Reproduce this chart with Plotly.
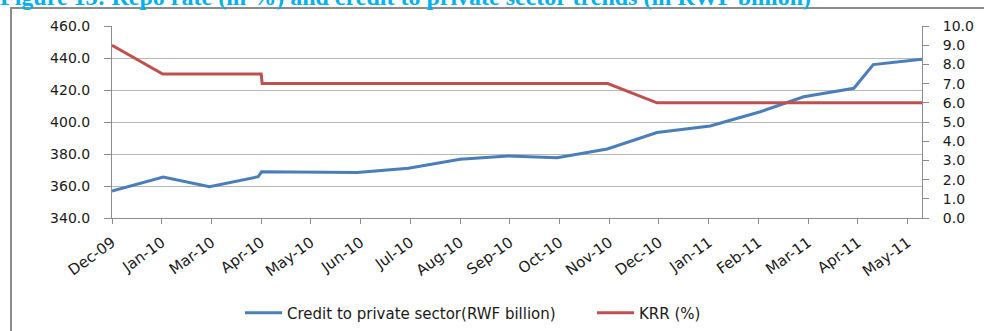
import plotly.graph_objects as go

# Period labels on the horizontal axis
period_labels = ["Dec-09", "Jan-10", "Mar-10", "Apr-10", "May-10", "Jun-10", "Jul-10",
                 "Aug-10", "Sep-10", "Oct-10", "Nov-10", "Dec-10", "Jan-11", "Feb-11",
                 "Mar-11", "Apr-11", "May-11"]

# Credit to private sector (RWF billion), position in periods
credit_pos = [0, 1.03, 1.96, 2.94, 3.01, 4.93, 5.96, 7.0, 7.97, 8.95, 9.96, 10.96,
              12.03, 13.04, 13.91, 14.92, 15.31, 16.29]
credit_val = [356.9, 365.6, 359.6, 365.8, 368.9, 368.5, 371.1, 376.7, 378.8, 377.7,
              383.1, 393.4, 397.5, 406.4, 415.8, 421.1, 435.9, 439.2]

# Key repo rate (%)
krr_pos = [0, 1.02, 3.0, 3.02, 9.97, 10.96, 16.29]
krr_val = [9.0, 7.5, 7.5, 7.0, 7.0, 6.0, 6.0]

left_ticks = [340, 360, 380, 400, 420, 440, 460]
right_ticks = [0, 1, 2, 3, 4, 5, 6, 7, 8, 9, 10]

W, H = 984, 331
L, R, T, B = 112, 62, 26, 113
PW, PH = W - L - R, H - T - B


def px_x(px):
    return (px - L) / PW


def px_y(py):
    return (H - B - py) / PH


FONT = "DejaVu Sans"
TXT = "#1a1a1a"
AXC = "#8c8c8c"

fig = go.Figure()
fig.add_trace(go.Scatter(
    x=credit_pos, y=credit_val, mode="lines",
    name="Credit to private sector(RWF billion)",
    line=dict(color="#4a7ebb", width=3),
))
fig.add_trace(go.Scatter(
    x=krr_pos, y=krr_val, mode="lines", name="KRR (%)", yaxis="y2",
    line=dict(color="#c0504d", width=3),
))

fig.update_layout(
    template="none",
    width=W, height=H,
    margin=dict(l=L, r=R, t=T, b=B, autoexpand=False),
    paper_bgcolor="white", plot_bgcolor="white",
    font=dict(family=FONT, color=TXT),
    xaxis=dict(
        range=[0, len(period_labels) - 1 + 0.29],
        tickmode="array",
        tickvals=list(range(len(period_labels))),
        ticktext=period_labels,
        tickangle=-36,
        tickfont=dict(size=15, color=TXT),
        ticks="outside", ticklen=5, tickcolor=AXC,
        ticklabelstandoff=4,
        showline=True, linecolor=AXC, linewidth=1,
        showgrid=False, zeroline=False, automargin=False,
    ),
    yaxis=dict(
        range=[340, 460],
        tickvals=left_ticks,
        tickformat=".1f",
        tickfont=dict(size=14, color=TXT),
        ticks="outside", ticklen=7, tickcolor=AXC,
        ticklabelstandoff=11,
        showline=True, linecolor=AXC, linewidth=1,
        showgrid=True, gridcolor="#b8b8b8", gridwidth=1,
        zeroline=False, automargin=False,
    ),
    yaxis2=dict(
        range=[0, 10],
        tickvals=right_ticks,
        tickformat=".1f",
        overlaying="y", side="right",
        tickfont=dict(size=14, color=TXT),
        ticks="outside", ticklen=6, tickcolor=AXC,
        ticklabelstandoff=11,
        showline=True, linecolor=AXC, linewidth=1,
        showgrid=False, zeroline=False, automargin=False,
    ),
    legend=dict(
        orientation="h",
        x=px_x(240), xanchor="left",
        y=px_y(313), yanchor="middle",
        font=dict(size=15, color=TXT),
        itemwidth=37,
        entrywidth=300, entrywidthmode="pixels",
        bgcolor="rgba(0,0,0,0)",
    ),
    showlegend=True,
)

# Outer chart frame
fig.add_shape(
    type="rect", xref="paper", yref="paper",
    x0=px_x(11), x1=px_x(W + 20), y0=px_y(H + 20), y1=px_y(8),
    line=dict(color="#8c8c8c", width=2), fillcolor="rgba(0,0,0,0)", layer="below",
)

# Figure caption above the frame
fig.add_annotation(
    xref="paper", yref="paper",
    x=px_x(-2), xanchor="left",
    y=px_y(-3), yanchor="middle",
    text="<b>Figure 13: Repo rate (in %) and credit to private sector trends (in RWF billion)</b>",
    showarrow=False,
    font=dict(family="Liberation Serif", size=24, color="#00b0f0"),
)

fig.write_html("out.html")
